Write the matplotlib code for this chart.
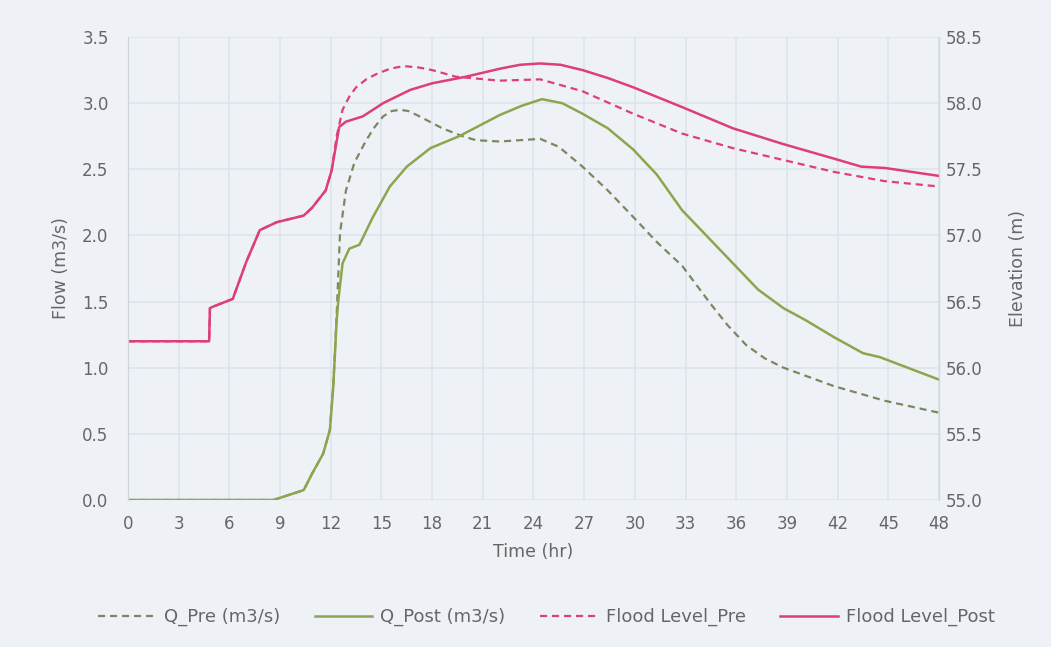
import matplotlib
matplotlib.use("Agg")
import matplotlib.pyplot as plt

plt.rcParams['font.family'] = ['DejaVu Sans']

# ---- data ----
t_q_post = [0, 8.6, 10.4, 10.9, 11.55, 11.95, 12.15, 12.35, 12.45, 12.7, 13.1, 13.7,
            14.5, 15.5, 16.5, 17.9, 19.6, 22.0, 23.3, 24.5, 25.7, 26.9, 28.4, 29.9,
            31.3, 32.8, 34.3, 35.8, 37.3, 38.8, 40.1, 41.8, 43.5, 44.5, 48]
q_post = [0.0, 0.0, 0.075, 0.2, 0.35, 0.53, 0.86, 1.36, 1.51, 1.79, 1.90, 1.93,
          2.14, 2.37, 2.52, 2.66, 2.75, 2.91, 2.98, 3.03, 3.00, 2.92, 2.81, 2.65,
          2.46, 2.19, 1.99, 1.79, 1.59, 1.45, 1.36, 1.23, 1.11, 1.08, 0.91]

t_q_pre = [0, 8.6, 10.4, 10.9, 11.55, 11.95, 12.15, 12.35, 12.55, 12.9, 13.4, 14.1,
           14.6, 15.1, 15.6, 16.1, 16.6, 17.1, 18.6, 19.8, 20.6, 22.0, 24.4, 25.5,
           26.9, 28.4, 29.9, 31.3, 32.8, 34.5, 35.5, 36.6, 37.7, 38.8, 41.8, 44.8, 48]
q_pre = [0.0, 0.0, 0.075, 0.2, 0.35, 0.53, 0.86, 1.40, 2.02, 2.34, 2.55, 2.72,
         2.82, 2.90, 2.94, 2.95, 2.94, 2.91, 2.81, 2.75, 2.72, 2.71, 2.73, 2.67,
         2.52, 2.34, 2.14, 1.95, 1.77, 1.48, 1.32, 1.17, 1.07, 1.00, 0.86, 0.75, 0.66]

t_fl_post = [0, 4.8, 4.85, 5.0, 6.2, 7.0, 7.8, 8.8, 10.4, 10.9, 11.7, 12.05, 12.5,
             12.9, 13.9, 15.1, 16.7, 18.0, 20.0, 22.0, 23.2, 24.4, 25.6, 26.9, 28.4,
             29.9, 32.8, 35.8, 38.8, 41.8, 43.4, 44.8, 48]
fl_post = [56.2, 56.2, 56.45, 56.46, 56.52, 56.8, 57.04, 57.10, 57.15, 57.21, 57.34,
           57.49, 57.82, 57.86, 57.90, 58.0, 58.1, 58.15, 58.2, 58.26, 58.29, 58.30,
           58.29, 58.25, 58.19, 58.12, 57.97, 57.81, 57.69, 57.58, 57.52, 57.51, 57.45]

t_fl_pre = [0, 4.8, 4.85, 5.0, 6.2, 7.0, 7.8, 8.8, 10.4, 10.9, 11.7, 12.05, 12.35,
            12.7, 13.1, 13.5, 14.1, 14.7, 15.5, 16.3, 17.2, 18.0, 19.4, 22.0, 24.4,
            26.9, 29.9, 32.8, 35.8, 38.8, 41.8, 44.8, 48]
fl_pre = [56.2, 56.2, 56.45, 56.46, 56.52, 56.8, 57.04, 57.10, 57.15, 57.21, 57.34,
          57.49, 57.75, 57.95, 58.05, 58.12, 58.18, 58.22, 58.26, 58.28, 58.27, 58.25,
          58.2, 58.17, 58.18, 58.09, 57.92, 57.77, 57.66, 57.57, 57.48, 57.41, 57.37]

x_ticks = list(range(0, 49, 3))
flow_ticks = [0.0, 0.5, 1.0, 1.5, 2.0, 2.5, 3.0, 3.5]
elev_ticks = [55.0, 55.5, 56.0, 56.5, 57.0, 57.5, 58.0, 58.5]

# ---- style ----
BG = '#eef2f6'
GRID = '#dde4ec'
TXT = '#666666'
GREEN = '#8fa44e'
GREEN_D = '#7c8762'
PINK = '#dd3f76'

fig = plt.figure(figsize=(10.51, 6.47), dpi=100, facecolor=BG)
ax = fig.add_axes([0.1218, 0.2272, 0.7716, 0.7156], facecolor=BG)
ax2 = ax.twinx()

l1, = ax.plot(t_q_pre, q_pre, color=GREEN_D, lw=1.6, dashes=(3.2, 2.2), label='Q_Pre (m3/s)')
l2, = ax.plot(t_q_post, q_post, color=GREEN, lw=1.8, label='Q_Post (m3/s)')
l3, = ax2.plot(t_fl_pre, fl_pre, color=PINK, lw=1.6, dashes=(3.2, 2.2), label='Flood Level_Pre')
l4, = ax2.plot(t_fl_post, fl_post, color=PINK, lw=1.8, label='Flood Level_Post')

ax.set_xlim(0, 48)
ax.set_ylim(0, 3.5)
ax2.set_ylim(55.0, 58.5)
ax.set_xticks(x_ticks)
ax.set_yticks(flow_ticks)
ax.set_yticklabels([f'{v:.1f}' for v in flow_ticks])
ax2.set_yticks(elev_ticks)
ax2.set_yticklabels([f'{v:.1f}' for v in elev_ticks])

ax.grid(True, color=GRID, lw=1.2)
ax.set_axisbelow(True)
for a in (ax, ax2):
    for s in ('top', 'bottom'):
        a.spines[s].set_visible(False)
    a.spines['left'].set_color('#cdd5de')
    a.spines['right'].set_color('#cdd5de')
ax.tick_params(axis='both', length=0, labelsize=12, labelcolor=TXT)
ax.tick_params(axis='y', pad=14)
ax.tick_params(axis='x', pad=11)
ax2.tick_params(axis='y', length=0, labelsize=12, labelcolor=TXT, pad=5)

ax.set_xlabel('Time (hr)', fontsize=12.5, color=TXT, labelpad=7)
ax.set_ylabel('Flow (m3/s)', fontsize=12.5, color=TXT, labelpad=9)
ax2.set_ylabel('Elevation (m)', fontsize=12.5, color=TXT, labelpad=19)

leg = fig.legend(handles=[l1, l2, l3, l4], loc='center', bbox_to_anchor=(0.52, 0.046),
                 ncol=4, frameon=False, fontsize=13, handlelength=3.2,
                 handletextpad=0.45, columnspacing=1.9)
for t in leg.get_texts():
    t.set_color(TXT)

fig.savefig('out.png', dpi=100, facecolor=BG)
